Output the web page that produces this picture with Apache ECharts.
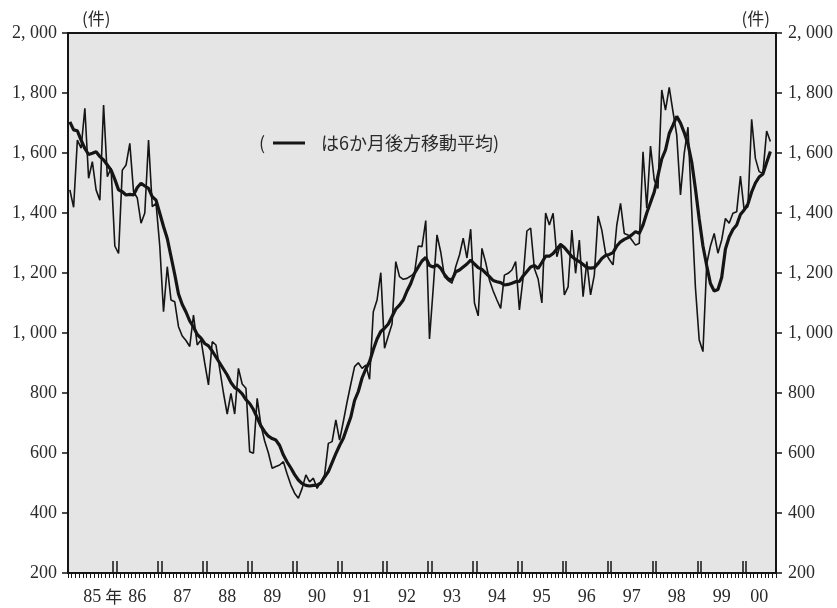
<!DOCTYPE html>
<html>
<head>
<meta charset="utf-8">
<script src="https://cdn.jsdelivr.net/npm/echarts/dist/echarts.min.js"></script>
<style>
html,body{margin:0;padding:0;background:#ffffff;}
#chart{width:837px;height:608px;}
</style>
</head>
<body>
<div id="chart"></div>
<script>
// ---- categories: Jan 1985 .. Sep 2000 (monthly) ----
const startYear = 1985;
const monthCount = 189;
const months = [];
for (let k = 0; k < monthCount; k++) {
  const y = startYear + Math.floor(k / 12);
  const m = (k % 12) + 1;
  months.push(y + '-' + String(m).padStart(2, '0'));
}

// ---- x tick labels (one per year) ----
const yearLabels = ['85', '86', '87', '88', '89', '90', '91', '92', '93', '94', '95', '96', '97', '98', '99', '00'];
const yearSuffix = '年';

// ---- y axis ----
const yMin = 200;
const yMax = 2000;
const yStep = 200;
const unitLabel = '(件)';
const noteText = 'は6か月後方移動平均)';

// ---- monthly values (件) ----
const monthly = [
  1477, 1419, 1643, 1616, 1749, 1516, 1571, 1477, 1443, 1760, 1521, 1550,
  1290, 1265, 1543, 1560, 1632, 1471, 1450, 1366, 1400, 1643, 1421, 1432,
  1290, 1071, 1221, 1110, 1104, 1021, 990, 975, 955, 1060, 960, 977,
  900, 827, 971, 960, 880, 800, 730, 799, 730, 882, 830, 816,
  604, 599, 782, 693, 640, 600, 549, 555, 560, 571, 530, 493,
  466, 449, 482, 527, 504, 516, 482, 504, 527, 632, 638, 710,
  643, 705, 770, 830, 888, 901, 882, 893, 846, 1071, 1110, 1201,
  949, 990, 1030, 1238, 1188, 1179, 1182, 1190, 1200, 1290, 1288, 1375,
  980, 1150, 1327, 1270, 1188, 1175, 1166, 1221, 1260, 1316, 1250, 1346,
  1100, 1057, 1282, 1235, 1177, 1140, 1110, 1082, 1193, 1199, 1210, 1238,
  1077, 1185, 1340, 1350, 1215, 1180, 1100, 1400, 1360, 1399, 1254, 1299,
  1127, 1154, 1343, 1199, 1310, 1121, 1238, 1127, 1193, 1390, 1343, 1266,
  1245, 1227, 1360, 1432, 1332, 1327, 1310, 1293, 1299, 1604, 1416, 1623,
  1510, 1482, 1810, 1743, 1819, 1738, 1660, 1460, 1599, 1686, 1410, 1150,
  977, 938, 1230, 1290, 1332, 1266, 1310, 1382, 1366, 1399, 1404, 1523,
  1410, 1421, 1712, 1582, 1538, 1532, 1673, 1638
];

// ---- 6-month backward moving average ----
const movingAvg = [
  1704, 1677, 1674, 1643, 1615, 1595, 1599, 1604, 1588, 1577, 1560, 1543,
  1512, 1477, 1471, 1460, 1462, 1460, 1485, 1499, 1490, 1482, 1454, 1443,
  1399, 1355, 1315, 1255, 1195, 1130, 1095, 1070, 1040, 1020, 995, 983,
  965, 957, 940, 920, 900, 880, 860, 835, 818, 810, 797, 778,
  765, 745, 718, 690, 671, 656, 648, 643, 625, 593, 570, 550,
  528, 510, 498, 492, 490, 492, 493, 500, 520, 538, 568, 598,
  625, 649, 685, 720, 775, 805, 850, 880, 904, 945, 980, 1005,
  1016, 1030, 1055, 1080, 1093, 1110, 1140, 1165, 1199, 1220, 1240, 1252,
  1225, 1220, 1227, 1216, 1195, 1180, 1177, 1204, 1210, 1220, 1230, 1243,
  1230, 1218, 1212, 1200, 1188, 1175, 1171, 1168, 1160, 1162, 1166, 1171,
  1172, 1190, 1205, 1220, 1225, 1215, 1235, 1256, 1256, 1265, 1280, 1295,
  1285, 1270, 1255, 1245, 1238, 1228, 1218, 1216, 1218, 1232, 1248, 1258,
  1262, 1268, 1290, 1304, 1312, 1318, 1327, 1338, 1332, 1360, 1400, 1435,
  1470, 1525, 1580, 1610, 1665, 1693, 1722, 1700, 1668, 1630, 1570, 1480,
  1380, 1290, 1225, 1165, 1140, 1145, 1185, 1280, 1320, 1345, 1360, 1395,
  1410, 1430, 1470, 1500, 1520, 1530, 1568, 1605
];

// label index per year: centre of the months present in that year
const labelAt = {};
yearLabels.forEach(function (lab, k) {
  const start = k * 12;
  const count = Math.min(12, monthCount - start);
  labelAt[start + Math.floor(count / 2)] = k;
});

const ink = '#151515';
const textInk = '#2a2a2a';
const serif = '"Liberation Serif", "DejaVu Serif", serif';
const cjk = '"Noto Sans CJK JP", "Noto Sans", sans-serif';

function yFmt(v) {
  if (v >= 1000) {
    return Math.floor(v / 1000) + ', ' + String(v % 1000).padStart(3, '0');
  }
  return String(v);
}

const chart = echarts.init(document.getElementById('chart'), null, {renderer: 'canvas'});

const yCommon = {
  type: 'value',
  min: yMin,
  max: yMax,
  interval: yStep,
  axisLine: {show: true, lineStyle: {color: ink, width: 2}},
  axisTick: {show: true, length: 6, lineStyle: {color: ink, width: 1.5}},
  splitLine: {show: false},
  name: unitLabel,
  nameLocation: 'end',
  nameGap: 6
};

chart.setOption({
  animation: false,
  backgroundColor: '#ffffff',
  grid: {
    left: 68, right: 61, top: 33, bottom: 35,
    show: true, backgroundColor: '#e5e5e5', borderColor: ink, borderWidth: 2
  },
  xAxis: [
    {
      type: 'category',
      data: months,
      boundaryGap: true,
      position: 'bottom',
      axisLine: {show: true, lineStyle: {color: ink, width: 2}},
      axisTick: {show: true, interval: 0, length: 5, lineStyle: {color: ink, width: 1}},
      axisLabel: {
        show: true,
        interval: function (idx) { return labelAt[idx] !== undefined; },
        margin: 14,
        formatter: function (val, idx) {
          const k = labelAt[idx];
          if (k === undefined) return '';
          if (k === 0) return '{pad|}{n|' + yearLabels[k] + '}{k|' + yearSuffix + '}';
          return '{n|' + yearLabels[k] + '}';
        },
        rich: {
          pad: {width: 21},
          n: {fontFamily: serif, fontSize: 18, color: textInk, lineHeight: 20},
          k: {fontFamily: cjk, fontSize: 17, color: textInk, lineHeight: 20, padding: [0, 0, 0, 4]}
        }
      },
      splitLine: {show: false}
    },
    {
      type: 'category',
      data: months,
      boundaryGap: true,
      position: 'bottom',
      axisLine: {show: false},
      axisLabel: {show: false},
      axisTick: {
        show: true,
        inside: true,
        length: 12,
        interval: function (idx) { return idx >= 12 && (idx % 12 === 0 || idx % 12 === 1); },
        lineStyle: {color: ink, width: 1.5}
      },
      splitLine: {show: false}
    }
  ],
  yAxis: [
    Object.assign({}, yCommon, {
      position: 'left',
      axisLabel: {formatter: yFmt, fontFamily: serif, fontSize: 18, color: textInk, margin: 11},
      nameTextStyle: {fontFamily: cjk, fontSize: 17, color: textInk, align: 'left', padding: [0, 0, 0, 14]}
    }),
    Object.assign({}, yCommon, {
      position: 'right',
      axisLabel: {formatter: yFmt, fontFamily: serif, fontSize: 18, color: textInk, margin: 12},
      nameTextStyle: {fontFamily: cjk, fontSize: 17, color: textInk, align: 'right', padding: [0, 6, 0, 0]}
    })
  ],
  graphic: [
    {type: 'text', x: 259, y: 143, style: {text: '(', font: '18px ' + cjk, fill: textInk, verticalAlign: 'middle'}},
    {type: 'line', shape: {x1: 273, y1: 143, x2: 305, y2: 143}, style: {stroke: ink, lineWidth: 3}},
    {type: 'text', x: 321, y: 143, style: {text: noteText, font: '18px ' + cjk, fill: textInk, verticalAlign: 'middle'}}
  ],
  series: [
    {
      name: '月次',
      type: 'line',
      xAxisIndex: 0,
      yAxisIndex: 0,
      data: monthly,
      symbol: 'none',
      lineStyle: {color: ink, width: 1.6},
      z: 3
    },
    {
      name: '6か月後方移動平均',
      type: 'line',
      xAxisIndex: 0,
      yAxisIndex: 0,
      data: movingAvg,
      symbol: 'none',
      lineStyle: {color: ink, width: 3.2},
      z: 4
    }
  ]
});
</script>
</body>
</html>
